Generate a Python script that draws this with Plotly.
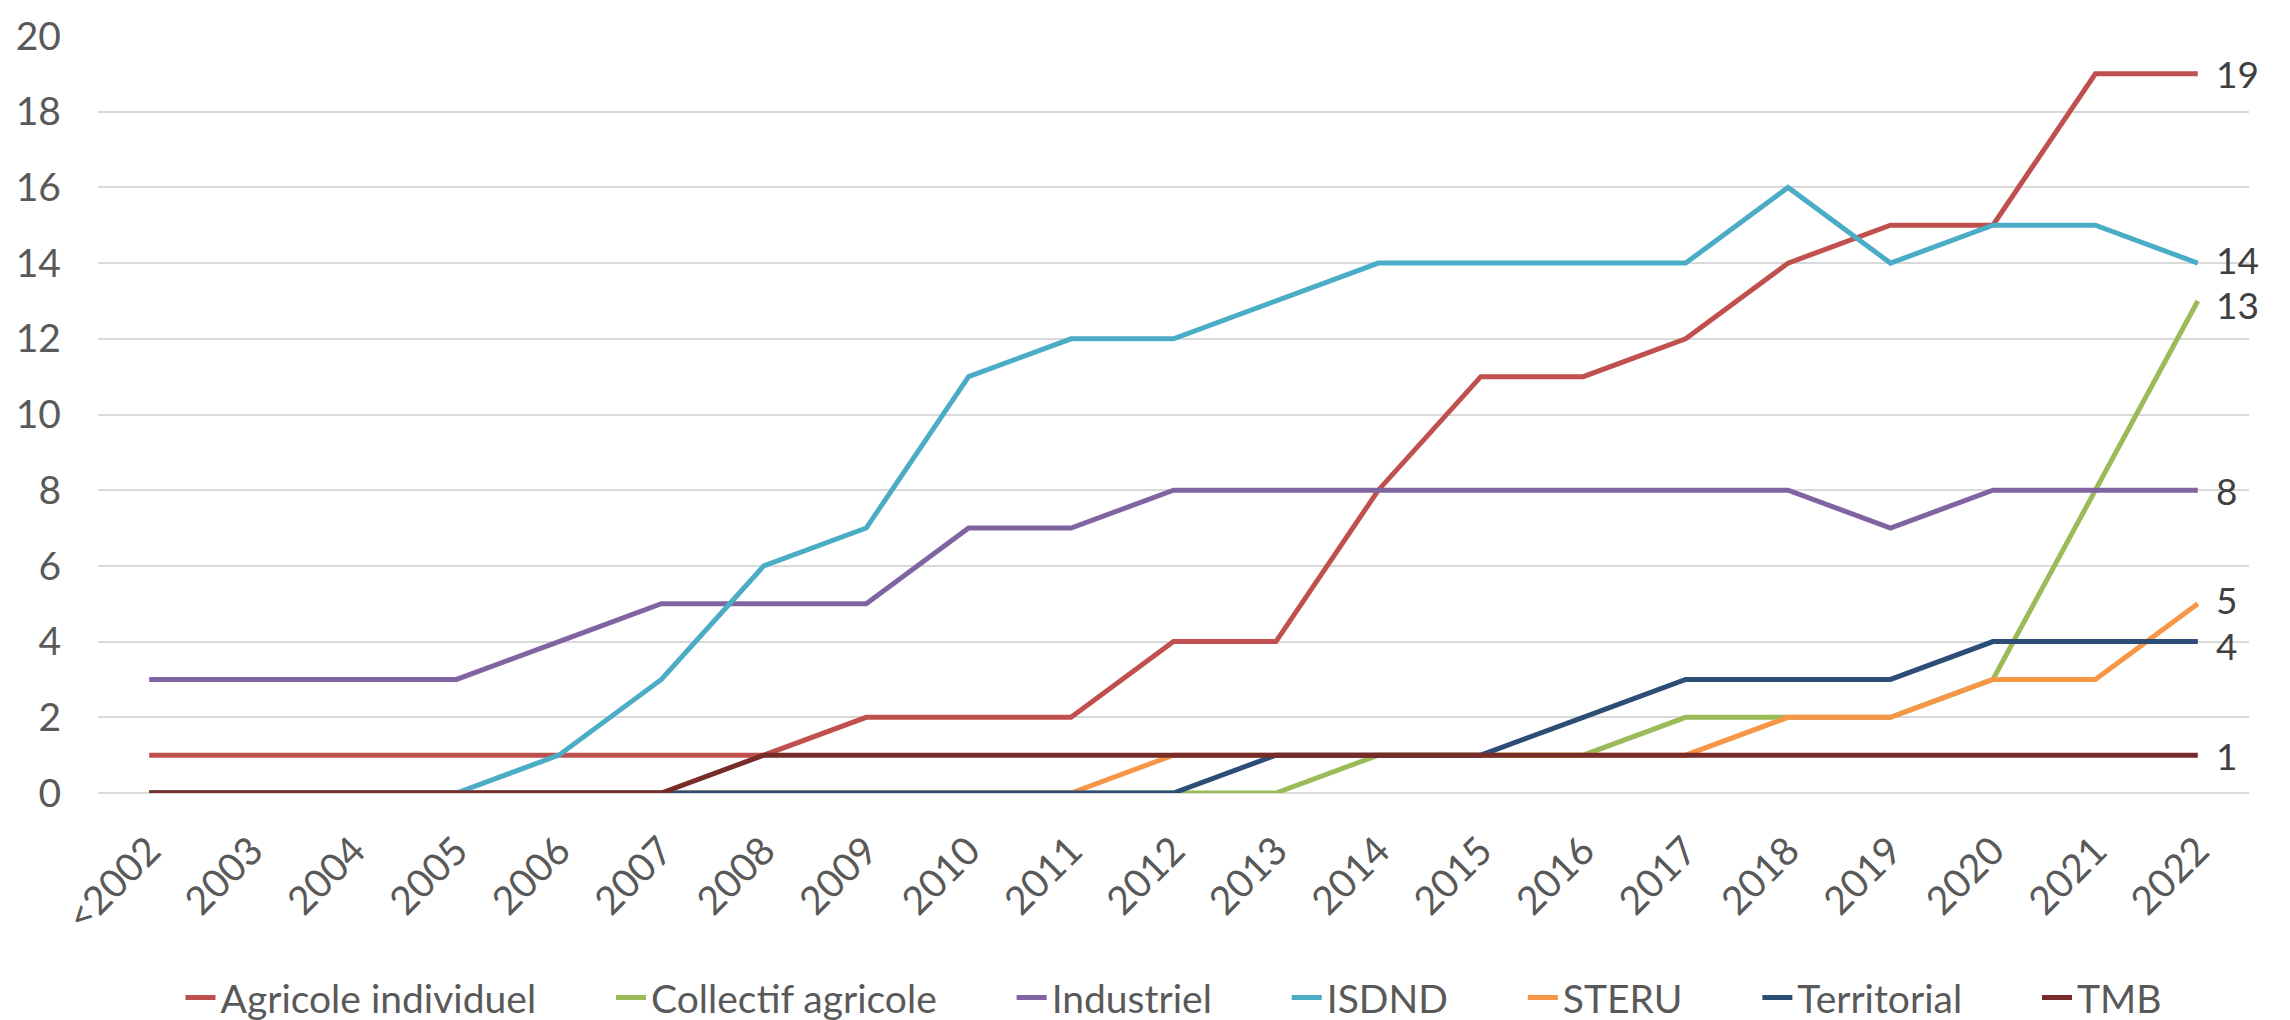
import plotly.graph_objects as go

# Categories (years) and series counts
years = ["<2002", "2003", "2004", "2005", "2006", "2007", "2008", "2009", "2010", "2011",
         "2012", "2013", "2014", "2015", "2016", "2017", "2018", "2019", "2020", "2021", "2022"]

agricole_individuel = [1, 1, 1, 1, 1, 1, 1, 2, 2, 2, 4, 4, 8, 11, 11, 12, 14, 15, 15, 19, 19]
collectif_agricole  = [0, 0, 0, 0, 0, 0, 0, 0, 0, 0, 0, 0, 1, 1, 1, 2, 2, 2, 3, 8, 13]
industriel          = [3, 3, 3, 3, 4, 5, 5, 5, 7, 7, 8, 8, 8, 8, 8, 8, 8, 7, 8, 8, 8]
isdnd               = [0, 0, 0, 0, 1, 3, 6, 7, 11, 12, 12, 13, 14, 14, 14, 14, 16, 14, 15, 15, 14]
steru               = [0, 0, 0, 0, 0, 0, 0, 0, 0, 0, 1, 1, 1, 1, 1, 1, 2, 2, 3, 3, 5]
territorial         = [0, 0, 0, 0, 0, 0, 0, 0, 0, 0, 0, 1, 1, 1, 2, 3, 3, 3, 4, 4, 4]
tmb                 = [0, 0, 0, 0, 0, 0, 1, 1, 1, 1, 1, 1, 1, 1, 1, 1, 1, 1, 1, 1, 1]

series_names = ["Agricole individuel", "Collectif agricole", "Industriel", "ISDND",
                "STERU", "Territorial", "TMB"]
series_values = [agricole_individuel, collectif_agricole, industriel, isdnd,
                 steru, territorial, tmb]
series_colors = ["#C0504D", "#9BBB59", "#8064A2", "#4BACC6",
                 "#F79646", "#2C4D75", "#772C2A"]

FONT = "Lato, 'Open Sans', sans-serif"
FS = 39
PAD = "\u00a0" * 7  # spacing between legend entries

fig = go.Figure()

for i, (name, vals, col) in enumerate(zip(series_names, series_values, series_colors)):
    label = name if i == len(series_names) - 1 else name + PAD
    fig.add_trace(go.Scatter(
        x=years, y=vals, name=label, mode="lines",
        line=dict(color=col, width=5),
        hovertemplate=name + ": %{y}<extra>%{x}</extra>",
    ))

# Value labels after the last year of each series
# (category axes take the category index for annotation positions)
last_idx = len(years) - 1
last_vals = [v[-1] for v in series_values]
for v in last_vals:
    # push apart labels of adjacent values so they don't collide
    shift = 0
    if (v - 1) in last_vals:
        shift += 4
    if (v + 1) in last_vals:
        shift -= 4
    fig.add_annotation(
        x=last_idx, y=v, text=str(v),
        xref="x", yref="y",
        xanchor="left", yanchor="middle", xshift=16, yshift=shift,
        showarrow=False,
        font=dict(family=FONT, size=37, color="#404040"),
    )

fig.update_layout(
    width=2290, height=1020,
    margin=dict(l=98, r=41, t=26, b=227),
    plot_bgcolor="white", paper_bgcolor="white",
    font=dict(family=FONT, size=FS, color="#595959"),
    showlegend=True,
    legend=dict(
        orientation="h", x=0.5, xanchor="center",
        yref="container", y=0.022, yanchor="middle",
        font=dict(family=FONT, size=FS, color="#595959"),
        tracegroupgap=0,
    ),
    xaxis=dict(
        type="category", range=[-0.5, len(years) - 0.5],
        tickangle=-45, showgrid=False, zeroline=False, showline=False,
        ticks="", ticklabelstandoff=26,
        tickfont=dict(family=FONT, size=FS, color="#595959"),
    ),
    yaxis=dict(
        range=[0, 20], dtick=2, showgrid=True, gridcolor="#D9D9D9", gridwidth=1.5,
        zeroline=True, zerolinecolor="#D9D9D9", zerolinewidth=1.5,
        showline=False, ticks="", ticklabelstandoff=36,
        tickfont=dict(family=FONT, size=FS, color="#595959"),
    ),
)

fig.write_html("out.html")
